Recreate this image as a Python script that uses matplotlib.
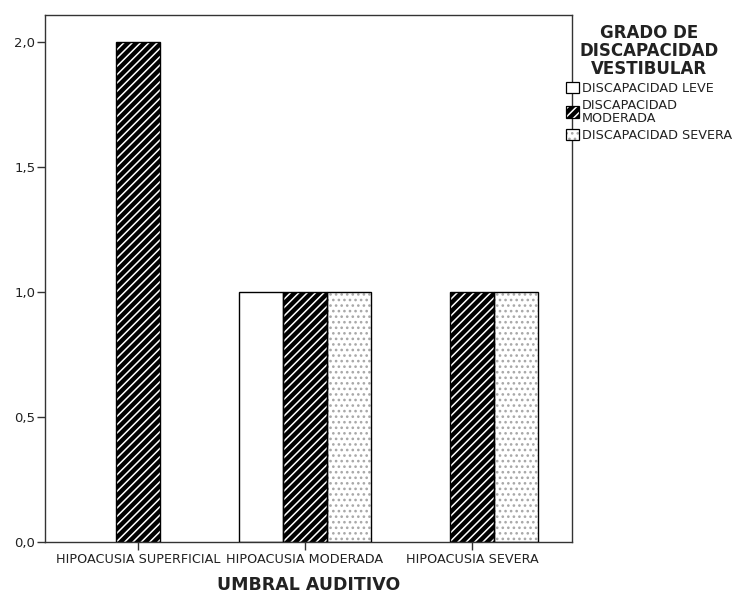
import matplotlib
matplotlib.use("Agg")
import matplotlib.pyplot as plt
from matplotlib.patches import Patch
from matplotlib.legend_handler import HandlerTuple
from matplotlib.ticker import FuncFormatter

# Data (None = category not present in that group)
categories = ["HIPOACUSIA SUPERFICIAL", "HIPOACUSIA MODERADA", "HIPOACUSIA SEVERA"]
series_names = ["DISCAPACIDAD LEVE", "DISCAPACIDAD\nMODERADA", "DISCAPACIDAD SEVERA"]
leve = [None, 1, 0]
moderada = [2, 1, 1]
severa = [None, 1, 1]
yticks = [0.0, 0.5, 1.0, 1.5, 2.0]

plt.rcParams["font.family"] = ["DejaVu Sans"]
plt.rcParams["hatch.linewidth"] = 1.1
TXT = "#222222"

fig = plt.figure(figsize=(7.35, 5.94), dpi=100)
ax = fig.add_axes([45 / 735, 52 / 594, 527 / 735, 527 / 594])

width = 0.263
styles = [
    dict(face="white", hatch=None, hcol="black"),
    dict(face="black", hatch="////", hcol="white"),
    dict(face="white", hatch="...", hcol="#a8a8a8"),
]
all_series = [leve, moderada, severa]

for g in range(len(categories)):
    present = [s for s in range(3) if all_series[s][g] is not None]
    n = len(present)
    for k, s in enumerate(present):
        val = all_series[s][g]
        if val == 0:
            continue
        x = g + (k - (n - 1) / 2) * width
        st = styles[s]
        ax.bar(x, val, width=width, color=st["face"], edgecolor=st["hcol"],
               hatch=st["hatch"], linewidth=0, zorder=2)
        ax.bar(x, val, width=width, fill=False, edgecolor="black",
               linewidth=1.0, zorder=3)

ax.set_xlim(-0.557, 0.599 + 2)
ax.set_ylim(0, 2.108)
ax.set_yticks(yticks)
ax.yaxis.set_major_formatter(FuncFormatter(lambda v, p: f"{v:.1f}".replace(".", ",")))
ax.set_xticks(range(len(categories)))
ax.set_xticklabels(categories)
ax.tick_params(axis="both", direction="out", length=6, width=1.0,
               labelsize=9.2, labelcolor=TXT, color="#333333")
ax.tick_params(axis="x", pad=2)
ax.tick_params(axis="y", pad=1, labelsize=9.5)
for sp in ax.spines.values():
    sp.set_color("#333333")
    sp.set_linewidth(1.0)

ax.set_xlabel("UMBRAL AUDITIVO", fontsize=12.5, fontweight="bold", color=TXT, labelpad=7)

handles = []
for st in styles:
    fill = Patch(facecolor=st["face"], edgecolor=st["hcol"], hatch=st["hatch"], linewidth=0)
    edge = Patch(fill=False, edgecolor="black", linewidth=0.9)
    handles.append((fill, edge))
leg = fig.legend(handles, series_names, loc="upper left",
                 handler_map={tuple: HandlerTuple(ndivide=1, pad=0)},
                 bbox_to_anchor=(563 / 735, 1 - 21 / 594), frameon=False,
                 fontsize=9.2, title="GRADO DE\nDISCAPACIDAD\nVESTIBULAR",
                 title_fontsize=12, handlelength=1.05, handleheight=1.05,
                 handletextpad=0.25, labelspacing=0.32, borderpad=0.2,
                 borderaxespad=0)
title = leg.get_title()
title.set_multialignment("center")
title.set_color(TXT)
title.set_fontweight("bold")
title.set_linespacing(1.0)
for t in leg.get_texts():
    t.set_color(TXT)
    t.set_linespacing(0.95)

fig.savefig("out.png", dpi=100)
